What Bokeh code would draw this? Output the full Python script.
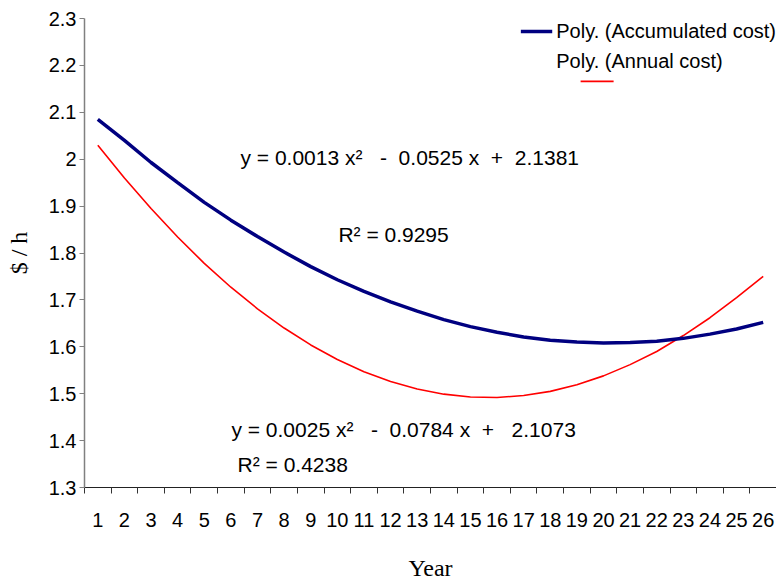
from bokeh.plotting import figure
from bokeh.models import (Range1d, FixedTicker, CustomJSTickFormatter, Label, Legend,
                          LegendItem, Arrow, ColumnDataSource)
from bokeh.embed import file_html
from bokeh.resources import INLINE

# ---- data ----
years = list(range(1, 27))
accumulated = [2.085, 2.040, 1.993, 1.950, 1.908, 1.870, 1.835, 1.802, 1.771, 1.743,
               1.718, 1.696, 1.676, 1.658, 1.643, 1.631, 1.621, 1.614, 1.610, 1.608,
               1.609, 1.612, 1.618, 1.627, 1.638, 1.652]
annual = [2.030, 1.960, 1.895, 1.834, 1.778, 1.727, 1.681, 1.640, 1.604, 1.573,
          1.547, 1.526, 1.510, 1.499, 1.493, 1.492, 1.496, 1.505, 1.519, 1.538,
          1.562, 1.590, 1.624, 1.662, 1.705, 1.750]
y_ticks = [1.3, 1.4, 1.5, 1.6, 1.7, 1.8, 1.9, 2.0, 2.1, 2.2, 2.3]
x_labels = [str(y) for y in years]

S = "\u00a0"
eq_accum = "y = 0.0013 x\u00b2" + S * 3 + "-" + S * 2 + "0.0525 x" + S * 2 + "+" + S * 2 + "2.1381"
r2_accum = "R\u00b2 = 0.9295"
eq_annual = "y = 0.0025 x\u00b2" + S * 3 + "-" + S * 2 + "0.0784 x" + S * 2 + "+" + S * 3 + "2.1073"
r2_annual = "R\u00b2 = 0.4238"

FONT = "Liberation Sans"
SERIF = "Liberation Serif"

p = figure(width=776, height=583, output_backend="svg", toolbar_location=None,
           x_range=Range1d(0.5, 26.5), y_range=Range1d(1.3, 2.3),
           min_border_left=84, min_border_right=0, min_border_top=18, min_border_bottom=94)
p.outline_line_color = None
p.xgrid.visible = False
p.ygrid.visible = False
p.background_fill_color = "white"

src = ColumnDataSource(dict(x=years, acc=accumulated, ann=annual))
r_ann = p.line("x", "ann", source=src, line_color="#ff0000", line_width=1.6)
r_acc = p.line("x", "acc", source=src, line_color="#000080", line_width=3.5)
r_dummy = p.line(x=[], y=[], line_alpha=0)

# x axis
xa = p.xaxis[0]
xa.ticker = FixedTicker(ticks=years, minor_ticks=[y - 0.5 for y in years] + [26.5])
xa.major_label_overrides = {y: s for y, s in zip(years, x_labels)}
xa.major_tick_out = 0
xa.major_tick_in = 0
xa.minor_tick_out = 6
xa.minor_tick_in = 0
xa.minor_tick_line_color = "#333333"
xa.axis_line_color = "#222222"
xa.axis_line_width = 1.2
xa.major_label_standoff = 19
xa.major_label_text_font = FONT
xa.major_label_text_font_size = "20px"
xa.major_label_text_color = "black"
xa.axis_label = "Year"
xa.axis_label_text_font = SERIF
xa.axis_label_text_font_style = "normal"
xa.axis_label_text_font_size = "24px"
xa.axis_label_text_color = "black"
xa.axis_label_standoff = 25

# y axis
ya = p.yaxis[0]
ya.ticker = FixedTicker(ticks=y_ticks, minor_ticks=[])
ya.formatter = CustomJSTickFormatter(code="return String(Math.round(tick*10)/10);")
ya.major_tick_out = 5
ya.major_tick_in = 0
ya.major_tick_line_color = "#808080"
ya.axis_line_color = "#808080"
ya.axis_line_width = 1.5
ya.major_label_standoff = 3
ya.major_label_text_font = FONT
ya.major_label_text_font_size = "20px"
ya.major_label_text_color = "black"
ya.axis_label = "$ / h"
ya.axis_label_text_font = SERIF
ya.axis_label_text_font_style = "normal"
ya.axis_label_text_font_size = "24px"
ya.axis_label_text_color = "black"
ya.axis_label_standoff = 14

# equations
for txt, xx, yy, fs in [(eq_accum, 6.36, 2.003, "21px"), (r2_accum, 10.04, 1.839, "21px"),
                        (eq_annual, 6.02, 1.423, "21px"), (r2_annual, 6.25, 1.349, "21px")]:
    p.add_layout(Label(x=xx, y=yy, text=txt, text_font=FONT, text_font_size=fs,
                       text_baseline="middle", text_align="left", text_color="black"))

# legend
legend = Legend(items=[LegendItem(label="Poly. (Accumulated cost)", renderers=[r_acc]),
                       LegendItem(label="Poly. (Annual cost)", renderers=[r_dummy])],
                location="top_right", orientation="vertical",
                padding=0, margin=0, spacing=4, glyph_width=32, glyph_height=26,
                label_height=26, label_standoff=4, border_line_color=None,
                background_fill_alpha=0, label_text_font=FONT,
                label_text_font_size="20px", label_text_color="black")
p.add_layout(legend)
p.add_layout(Arrow(x_start=19.14, y_start=2.166, x_end=20.38, y_end=2.166, end=None,
                   line_color="#ff0000", line_width=1.6))

open("out.html", "w").write(file_html(p, INLINE))
